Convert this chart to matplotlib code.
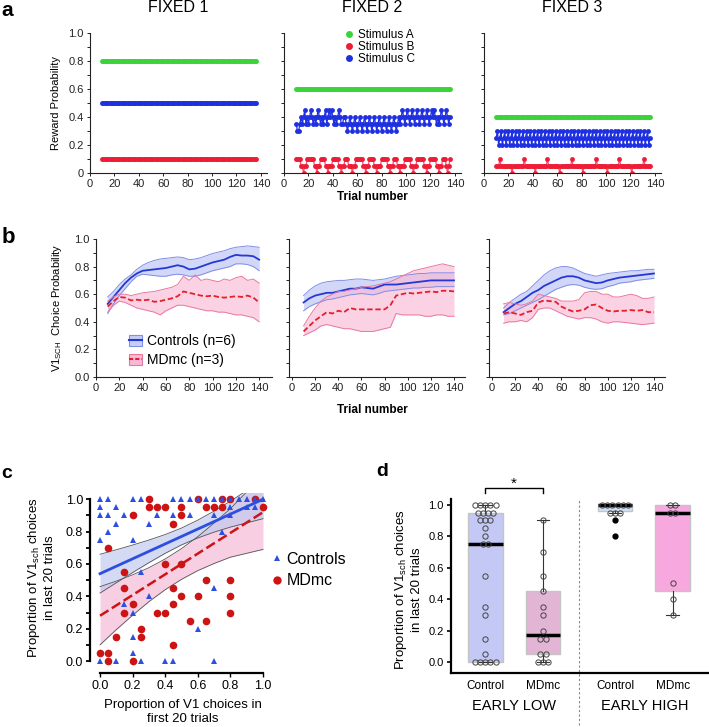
import numpy as np
import matplotlib
matplotlib.use("Agg")
import matplotlib.pyplot as plt
from matplotlib.lines import Line2D
from matplotlib.patches import Patch

plt.rcParams["font.family"] = ["Liberation Sans", "DejaVu Sans"]
plt.rcParams["mathtext.fontset"] = "custom"
plt.rcParams["mathtext.rm"] = "Liberation Sans"
plt.rcParams["mathtext.it"] = "Liberation Sans:italic"
plt.rcParams["mathtext.bf"] = "Liberation Sans:bold"

W, H = 709, 727

# ---------------- panel a: reward schedules ----------------
a_titles = ["FIXED 1", "FIXED 2", "FIXED 3"]
a_labels = ["Stimulus A", "Stimulus B", "Stimulus C"]
a_trials = np.arange(10, 137)
# fixed 1: constant probabilities
a1_A, a1_B, a1_C = 0.8, 0.1, 0.5
# fixed 2 / fixed 3: per-trial probability, one digit per trial (digit x 0.05)
a2_A = 0.6
a2_C_code = ("7667878978" "7898787898" "7878978989" "8787898778" "8767876787"
             "6787678767" "8767876787" "6787678767" "8767878987" "8987898789"
             "8789878987" "8989878789" "8789878")
a2_B_code = ("2222110112" "2222211011" "2222110111" "2222211011" "2221110112"
             "2222211011" "2222110111" "2222211011" "2221101112" "2222110112"
             "2222211011" "2222211011" "2221012")
a3_A = 0.4
a3_C_code = ("5645645645" "6456456456" "4564564564" "5645645645" "6456456456"
             "4564564564" "5645645645" "6456456456" "4564564564" "5645645645"
             "6456456456" "4564564564" "5645645")
a3_B_code = ("1112111111" "1110111111" "1112111111" "1101111111" "1121111111"
             "1101111111" "1121111111" "1011111111" "1121111111" "1011111111"
             "1211111111" "1011111111" "1211111")


def decode(code):
    return np.array([int(c) for c in code]) * 0.05


# ---------------- panel b: choice probability ----------------
b_trials = np.arange(10, 141, 5)
b1_ctrl_mean = [0.53, 0.58, 0.63, 0.68, 0.72, 0.75, 0.77, 0.775, 0.78, 0.785, 0.79, 0.80, 0.81, 0.80,
                0.78, 0.785, 0.80, 0.815, 0.83, 0.84, 0.85, 0.87, 0.885, 0.88, 0.88, 0.875, 0.85]
b1_ctrl_hi = [0.58, 0.62, 0.67, 0.71, 0.74, 0.78, 0.81, 0.83, 0.845, 0.855, 0.86, 0.865, 0.87, 0.865,
              0.85, 0.855, 0.865, 0.88, 0.895, 0.905, 0.915, 0.93, 0.94, 0.945, 0.95, 0.945, 0.94]
b1_ctrl_lo = [0.46, 0.53, 0.59, 0.64, 0.69, 0.73, 0.745, 0.74, 0.735, 0.73, 0.73, 0.74, 0.745, 0.74,
              0.73, 0.73, 0.74, 0.755, 0.77, 0.78, 0.79, 0.80, 0.82, 0.82, 0.815, 0.80, 0.77]
b1_md_mean = [0.51, 0.55, 0.58, 0.575, 0.555, 0.56, 0.555, 0.56, 0.545, 0.55, 0.56, 0.57, 0.585, 0.62,
              0.61, 0.60, 0.59, 0.585, 0.59, 0.58, 0.575, 0.58, 0.585, 0.58, 0.59, 0.575, 0.54]
b1_md_hi = [0.55, 0.58, 0.60, 0.60, 0.59, 0.60, 0.61, 0.615, 0.62, 0.63, 0.64, 0.65, 0.67, 0.73,
            0.70, 0.74, 0.70, 0.71, 0.70, 0.69, 0.71, 0.70, 0.72, 0.73, 0.70, 0.71, 0.68]
b1_md_lo = [0.47, 0.52, 0.55, 0.54, 0.52, 0.50, 0.49, 0.48, 0.47, 0.45, 0.48, 0.50, 0.52, 0.52,
            0.51, 0.50, 0.49, 0.48, 0.48, 0.47, 0.47, 0.46, 0.45, 0.45, 0.44, 0.43, 0.40]

b2_ctrl_mean = [0.54, 0.57, 0.59, 0.60, 0.61, 0.61, 0.62, 0.63, 0.64, 0.64, 0.65, 0.645, 0.64, 0.655,
                0.67, 0.67, 0.67, 0.675, 0.68, 0.685, 0.69, 0.695, 0.70, 0.70, 0.70, 0.70, 0.70]
b2_ctrl_hi = [0.59, 0.63, 0.66, 0.68, 0.69, 0.695, 0.70, 0.70, 0.705, 0.71, 0.71, 0.705, 0.70, 0.705,
              0.71, 0.72, 0.73, 0.735, 0.74, 0.745, 0.75, 0.75, 0.755, 0.755, 0.755, 0.755, 0.755]
b2_ctrl_lo = [0.48, 0.51, 0.53, 0.545, 0.56, 0.565, 0.575, 0.585, 0.595, 0.60, 0.605, 0.60, 0.595, 0.605,
              0.62, 0.625, 0.63, 0.635, 0.64, 0.645, 0.645, 0.65, 0.65, 0.655, 0.655, 0.655, 0.655]
b2_md_mean = [0.33, 0.37, 0.41, 0.44, 0.47, 0.46, 0.48, 0.47, 0.50, 0.49, 0.49, 0.49, 0.49, 0.49,
              0.49, 0.52, 0.59, 0.60, 0.61, 0.605, 0.61, 0.615, 0.62, 0.615, 0.625, 0.625, 0.62]
b2_md_hi = [0.37, 0.44, 0.50, 0.55, 0.58, 0.60, 0.62, 0.62, 0.63, 0.64, 0.65, 0.655, 0.66, 0.67,
            0.68, 0.69, 0.71, 0.73, 0.75, 0.77, 0.78, 0.79, 0.80, 0.81, 0.82, 0.81, 0.80]
b2_md_lo = [0.30, 0.32, 0.34, 0.37, 0.38, 0.37, 0.36, 0.35, 0.35, 0.34, 0.33, 0.33, 0.33, 0.34,
            0.35, 0.36, 0.46, 0.45, 0.45, 0.45, 0.45, 0.44, 0.44, 0.45, 0.45, 0.44, 0.44]

b3_ctrl_mean = [0.47, 0.50, 0.53, 0.55, 0.58, 0.61, 0.63, 0.66, 0.68, 0.70, 0.72, 0.73, 0.73, 0.72,
                0.70, 0.69, 0.68, 0.685, 0.70, 0.71, 0.72, 0.725, 0.73, 0.735, 0.74, 0.745, 0.75]
b3_ctrl_hi = [0.50, 0.54, 0.57, 0.60, 0.62, 0.66, 0.70, 0.74, 0.77, 0.79, 0.80, 0.80, 0.79, 0.77,
              0.75, 0.74, 0.73, 0.74, 0.75, 0.755, 0.76, 0.765, 0.77, 0.77, 0.775, 0.78, 0.78]
b3_ctrl_lo = [0.45, 0.46, 0.48, 0.50, 0.52, 0.54, 0.56, 0.585, 0.61, 0.635, 0.65, 0.665, 0.67, 0.665,
              0.65, 0.64, 0.635, 0.64, 0.655, 0.665, 0.68, 0.685, 0.69, 0.70, 0.705, 0.71, 0.715]
b3_md_mean = [0.46, 0.47, 0.46, 0.45, 0.47, 0.48, 0.54, 0.555, 0.55, 0.545, 0.51, 0.49, 0.475, 0.48,
              0.49, 0.52, 0.525, 0.50, 0.48, 0.475, 0.48, 0.48, 0.485, 0.48, 0.485, 0.47, 0.47]
b3_md_hi = [0.53, 0.54, 0.53, 0.52, 0.53, 0.55, 0.60, 0.59, 0.58, 0.57, 0.55, 0.55, 0.55, 0.56,
            0.61, 0.62, 0.62, 0.60, 0.60, 0.58, 0.58, 0.59, 0.60, 0.59, 0.57, 0.57, 0.58]
b3_md_lo = [0.39, 0.40, 0.40, 0.41, 0.40, 0.43, 0.49, 0.50, 0.50, 0.48, 0.46, 0.44, 0.43, 0.42,
            0.43, 0.43, 0.42, 0.40, 0.39, 0.40, 0.40, 0.395, 0.39, 0.385, 0.38, 0.385, 0.39]

# ---------------- panel c: first vs last 20 trials ----------------
c_ctrl_x = [0, 0.05, 0.2, 0.25, 0.45, 0.5, 0.55, 0.6, 0.65, 0.7, 0.75, 0.8, 0.85, 0.9, 0.95, 1.0,
            0, 0.1, 0.8, 0.9, 0.95,
            0, 0.05, 0.15, 0.35, 0.45, 0.55, 0.7, 0.8,
            0.1, 0.3, 0.05, 0.75, 0, 0.2, 0.25, 0.7, 0.3, 0.15, 0.2, 0.6, 0.2, 0.2,
            0, 0.1, 0.25, 0.4, 0.45, 0.7]
c_ctrl_y = [1.0] * 16 + [0.95] * 5 + [0.9] * 8 + \
           [0.85, 0.85, 0.8, 0.8, 0.75, 0.75, 0.55, 0.45, 0.4, 0.35, 0.3, 0.2, 0.15, 0.05] + [0.0] * 6
c_md_x = [0.3, 0.6, 0.75, 0.8, 0.95,
          0.3, 0.35, 0.4, 0.5, 0.65, 0.7, 0.75, 1.0,
          0.2, 0.5, 0.45, 0.05, 0.4, 0.5, 0.15, 0.65, 0.8, 0.15, 0.45, 0.5, 0.6, 0.8,
          0.2, 0.45, 0.15, 0.35, 0.4, 0.8, 0.55, 0.65, 0.25, 0.1, 0.25, 0.45, 0, 0.05, 0.05, 0.2]
c_md_y = [1.0] * 5 + [0.95] * 8 + \
         [0.9, 0.9, 0.85, 0.7, 0.6, 0.6, 0.55, 0.5, 0.5, 0.45, 0.45, 0.4, 0.4, 0.4,
          0.35, 0.35, 0.3, 0.3, 0.3, 0.3, 0.25, 0.25, 0.2, 0.15, 0.15, 0.1, 0.05, 0.05, 0.0, 0.0]
c_fit_x = [0, 0.1, 0.2, 0.3, 0.4, 0.5, 0.6, 0.7, 0.8, 0.9, 1.0]
c_ctrl_fit = [0.54, 0.586, 0.632, 0.678, 0.724, 0.77, 0.816, 0.862, 0.908, 0.954, 1.0]
c_ctrl_lo = [0.42, 0.484, 0.547, 0.608, 0.666, 0.718, 0.761, 0.797, 0.828, 0.854, 0.88]
c_ctrl_hi = [0.66, 0.688, 0.717, 0.748, 0.782, 0.822, 0.871, 0.927, 0.988, 1.054, 1.12]
c_md_fit = [0.28, 0.344, 0.408, 0.472, 0.536, 0.60, 0.664, 0.728, 0.792, 0.856, 0.92]
c_md_lo = [0.10, 0.194, 0.283, 0.367, 0.441, 0.505, 0.559, 0.603, 0.642, 0.666, 0.69]
c_md_hi = [0.46, 0.494, 0.533, 0.577, 0.631, 0.695, 0.769, 0.853, 0.942, 1.046, 1.15]

# ---------------- panel d: box plots ----------------
d_ticklabels = ["Control", "MDmc", "Control", "MDmc"]
d_groups = ["EARLY LOW", "EARLY HIGH"]
d_stats = [
    dict(med=0.75, q1=0.0, q3=0.95, whislo=0.0, whishi=1.0, fliers=[]),
    dict(med=0.175, q1=0.05, q3=0.45, whislo=0.0, whishi=0.9, fliers=[]),
    dict(med=1.0, q1=0.96, q3=1.005, whislo=0.95, whishi=1.0, fliers=[0.9, 0.8]),
    dict(med=0.95, q1=0.45, q3=1.0, whislo=0.3, whishi=1.0, fliers=[]),
]
d_points = [
    [1.0] * 5 + [0.95] * 4 + [0.9] * 3 + [0.85, 0.8, 0.75, 0.75, 0.55, 0.35, 0.3, 0.15, 0.05] + [0.0] * 5,
    [0.9, 0.7, 0.55, 0.45, 0.35, 0.3, 0.2, 0.15, 0.15, 0.05, 0.05, 0.0, 0.0, 0.0],
    [1.0] * 6 + [0.95] * 3,
    [1.0, 1.0, 0.95, 0.95, 0.5, 0.4, 0.3],
]
d_box_colors = ["#c3c8f4", "#e3b5d5", "#cfe1f7", "#f7a8df"]

# ---------------- drawing ----------------
GREEN, RED, BLUE = "#3ad43a", "#ee1d36", "#1f30e0"
CTRL_LINE, CTRL_FILL, CTRL_EDGE = "#2438d6", "#c7ccf5", "#7f8ee8"
MD_LINE, MD_FILL, MD_EDGE = "#e41f2c", "#f9bad6", "#e8789f"

fig = plt.figure(figsize=(W / 100, H / 100), dpi=100)


def px_axes(left, top, right, bottom):
    return fig.add_axes([left / W, 1 - bottom / H, (right - left) / W, (bottom - top) / H])


def px_text(x, y, s, **kw):
    kw.setdefault("ha", "center")
    kw.setdefault("va", "center")
    fig.text(x / W, 1 - y / H, s, **kw)


def style_small(ax, ylabels, zero_label):
    for side in ("top", "right"):
        ax.spines[side].set_visible(False)
    for side in ("left", "bottom"):
        ax.spines[side].set_linewidth(0.8)
        ax.spines[side].set_color("#222222")
    ax.set_ylim(0, 1)
    ax.set_xticks(range(0, 141, 20))
    ax.set_yticks(np.arange(0, 1.01, 0.2))
    ax.set_yticks(np.arange(0.1, 1.0, 0.2), minor=True)
    ax.tick_params(which="both", direction="out", length=2.5, width=0.7, labelsize=8, pad=2, colors="#222222")
    if ylabels:
        ax.set_yticklabels([zero_label, "0.2", "0.4", "0.6", "0.8", "1.0"])
    else:
        ax.tick_params(labelleft=False)


# panel a
a_lefts = [(90, 267), (284, 461), (484, 661)]
a_series = [
    (np.full(len(a_trials), a1_A), np.full(len(a_trials), a1_B), np.full(len(a_trials), a1_C)),
    (np.full(len(a_trials), a2_A), decode(a2_B_code), decode(a2_C_code)),
    (np.full(len(a_trials), a3_A), decode(a3_B_code), decode(a3_C_code)),
]
a_axes = []
for i, ((l, r), (sa, sb, sc)) in enumerate(zip(a_lefts, a_series)):
    ax = px_axes(l, 33, r, 173)
    ax.plot(a_trials, sa, "-o", color=GREEN, ms=3.5, mew=0, lw=1)
    ax.plot(a_trials, sc, "-o", color=BLUE, mfc=BLUE, ms=3.5, mew=0, lw=0.9)
    ax.plot(a_trials, sb, "-o", color="#f0507a", mfc=RED, ms=3.5, mew=0, lw=0.9)
    ax.set_xlim(0, 145)
    style_small(ax, i == 0, "0")
    a_axes.append(ax)
    px_text((l + r) / 2, 8, a_titles[i], fontsize=11.5)

leg_handles = [Line2D([], [], ls="", marker="o", color=c, ms=5, mew=0) for c in (GREEN, RED, BLUE)]
a_axes[1].legend(leg_handles, a_labels, loc="upper left", bbox_to_anchor=(0.345, 1.025),
                 frameon=False, fontsize=8.5, handlelength=0.7, handletextpad=0.4,
                 labelspacing=0.0, borderpad=0, borderaxespad=0)
px_text(56, 103, "Reward Probability", fontsize=8, rotation=90)
px_text(372, 197, "Trial number", fontsize=8.5, fontweight="bold")

# panel b
b_boxes = [(96, 272, (0, 151)), (289, 465, (-2.6, 149.5)), (489, 665, (-2.6, 149.5))]
b_data = [
    (b1_ctrl_mean, b1_ctrl_lo, b1_ctrl_hi, b1_md_mean, b1_md_lo, b1_md_hi),
    (b2_ctrl_mean, b2_ctrl_lo, b2_ctrl_hi, b2_md_mean, b2_md_lo, b2_md_hi),
    (b3_ctrl_mean, b3_ctrl_lo, b3_ctrl_hi, b3_md_mean, b3_md_lo, b3_md_hi),
]
b_axes = []
for i, ((l, r, xl), (cm, clo, chi, mm, mlo, mhi)) in enumerate(zip(b_boxes, b_data)):
    ax = px_axes(l, 239, r, 377)
    ax.fill_between(b_trials, clo, chi, color=CTRL_FILL, alpha=0.8, lw=0)
    ax.plot(b_trials, clo, color=CTRL_EDGE, lw=0.7)
    ax.plot(b_trials, chi, color=CTRL_EDGE, lw=0.7)
    ax.plot(b_trials, cm, color=CTRL_LINE, lw=1.3)
    ax.fill_between(b_trials, mlo, mhi, color=MD_FILL, alpha=0.65, lw=0)
    ax.plot(b_trials, mlo, color=MD_EDGE, lw=0.7)
    ax.plot(b_trials, mhi, color=MD_EDGE, lw=0.7)
    ax.plot(b_trials, mm, color=MD_LINE, lw=1.3, ls=(0, (3, 1.5)))
    ax.set_xlim(*xl)
    style_small(ax, i == 0, "0.0")
    b_axes.append(ax)

h_ctrl = (Patch(facecolor=CTRL_FILL, edgecolor=CTRL_EDGE, lw=0.8), Line2D([], [], color=CTRL_LINE, lw=1.5))
h_md = (Patch(facecolor=MD_FILL, edgecolor=MD_EDGE, lw=0.8), Line2D([], [], color=MD_LINE, lw=1.5, ls=(0, (2, 1))))
b_axes[0].legend([h_ctrl, h_md], ["Controls (n=6)", "MDmc (n=3)"], loc="upper left",
                 bbox_to_anchor=(0.19, 0.31), frameon=False, fontsize=10, handlelength=0.9,
                 handleheight=0.8, handletextpad=0.4, labelspacing=0.38, borderpad=0, borderaxespad=0)
px_text(57, 308, r"V1$_{\mathrm{SCH}}$  Choice Probability", fontsize=8, rotation=90)
px_text(372, 410, "Trial number", fontsize=8.5, fontweight="bold")

# panel c
ax = px_axes(93.5, 492.8, 269.5, 667.5)
ax.set_xlim(-0.04, 1.04)
ax.set_ylim(-0.04, 1.04)
ax.fill_between(c_fit_x, c_md_lo, c_md_hi, color="#f7c2db", alpha=0.8, lw=0, zorder=1)
ax.fill_between(c_fit_x, c_ctrl_lo, c_ctrl_hi, color="#c3c9f0", alpha=0.7, lw=0, zorder=1)
for band in (c_ctrl_lo, c_ctrl_hi, c_md_lo, c_md_hi):
    ax.plot(c_fit_x, band, color="#555555", lw=0.6, zorder=2)
ax.plot(c_ctrl_x, c_ctrl_y, "^", color="#2d4fe0", ms=5, mew=0, zorder=4, clip_on=False)
ax.plot(c_md_x, c_md_y, "o", color="#cc1414", ms=5.5, mew=0, zorder=3, clip_on=False)
ax.plot(c_fit_x, c_ctrl_fit, color="#2d4fe0", lw=2, zorder=5)
ax.plot(c_fit_x, c_md_fit, color="#cc1414", lw=1.8, ls=(0, (4, 1.6)), zorder=5)
for side in ("top", "right"):
    ax.spines[side].set_visible(False)
ax.spines["left"].set_position(("outward", 2.5))
ax.spines["bottom"].set_position(("outward", 4))
for side in ("left", "bottom"):
    ax.spines[side].set_linewidth(1.6)
    ax.spines[side].set_bounds(0, 1)
ax.set_xticks(np.arange(0, 1.01, 0.2))
ax.set_yticks(np.arange(0, 1.01, 0.2))
ax.set_yticks(np.arange(0.1, 1.0, 0.2), minor=True)
ax.tick_params(which="both", direction="out", length=3, width=1.3, labelsize=9, pad=2)
ax.tick_params(axis="x", which="both", width=1.0)
fig.legend([Line2D([], [], ls="", marker="^", color="#2d4fe0", ms=5, mew=0),
            Line2D([], [], ls="", marker="o", color="#cc1414", ms=6, mew=0)],
           ["Controls", "MDmc"], loc="upper left", bbox_to_anchor=(272 / W, 1 - 552 / H),
           frameon=False, fontsize=11.5, handlelength=0.6, handletextpad=0.3,
           labelspacing=0.4, borderpad=0, borderaxespad=0)
px_text(41, 578, "Proportion of V1$_{\\mathrm{sch}}$ choices\nin last 20 trials", fontsize=9.5,
        rotation=90, multialignment="center", linespacing=1.3)
px_text(183, 712, "Proportion of V1 choices in\nfirst 20 trials", fontsize=9.5,
        multialignment="center", linespacing=1.3)

# panel d
ax = px_axes(450.7, 499.3, 709, 672.7)
positions = [0, 1, 2.25, 3.25]
bp = ax.bxp(d_stats, positions=positions, widths=0.6, patch_artist=True, showfliers=True,
            capwidths=0.22,
            boxprops=dict(edgecolor="#c4c4c4", lw=1),
            medianprops=dict(color="black", lw=2.5),
            whiskerprops=dict(color="#333333", lw=0.8),
            capprops=dict(color="#333333", lw=0.8),
            flierprops=dict(marker="o", mfc="black", mec="black", ms=3.5))
for patch, col in zip(bp["boxes"], d_box_colors):
    patch.set_facecolor(col)


def swarm_offsets(vals, step=0.09):
    vals = np.asarray(vals)
    offs = np.zeros(len(vals))
    for v in np.unique(vals):
        idx = np.where(vals == v)[0]
        offs[idx] = (np.arange(len(idx)) - (len(idx) - 1) / 2) * step
    return offs


for pos, pts in zip(positions, d_points):
    xs = pos + swarm_offsets(pts)
    ax.plot(xs, pts, "o", mfc="none", mec="#444444", ms=3.8, mew=0.7, zorder=4)

ax.set_xlim(-0.6, 3.88)
ax.set_ylim(-0.066, 1.034)
ax.set_xticks(positions)
ax.set_xticklabels(d_ticklabels)
ax.set_yticks(np.arange(0, 1.01, 0.2))
ax.tick_params(axis="y", direction="out", length=3, width=1.2, labelsize=8, pad=2)
ax.tick_params(axis="x", length=0, labelsize=8.5, pad=5)
for side in ("top", "right"):
    ax.spines[side].set_visible(False)
for side in ("left", "bottom"):
    ax.spines[side].set_linewidth(1.6)
ax.plot([1.625, 1.625], [-0.40, 1.034], color="#888888", lw=0.8, ls=(0, (2, 2)), clip_on=False)
ax.plot([0, 0, 1, 1], [1.074, 1.105, 1.105, 1.074], color="black", lw=1, clip_on=False)
ax.text(0.5, 1.13, "*", ha="center", va="center", fontsize=11, clip_on=False)
px_text(514, 706, d_groups[0], fontsize=10.5)
px_text(645, 706, d_groups[1], fontsize=10.5)
px_text(408, 590, "Proportion of V1$_{\\mathrm{sch}}$ choices\nin last 20 trials", fontsize=9.5,
        rotation=90, multialignment="center", linespacing=1.3)

# panel letters
px_text(7, 10, "a", fontsize=15, fontweight="bold")
px_text(8, 238, "b", fontsize=16, fontweight="bold")
px_text(7, 474, "c", fontsize=14, fontweight="bold")
px_text(382, 472, "d", fontsize=14, fontweight="bold")

fig.savefig("out.png", dpi=100)
